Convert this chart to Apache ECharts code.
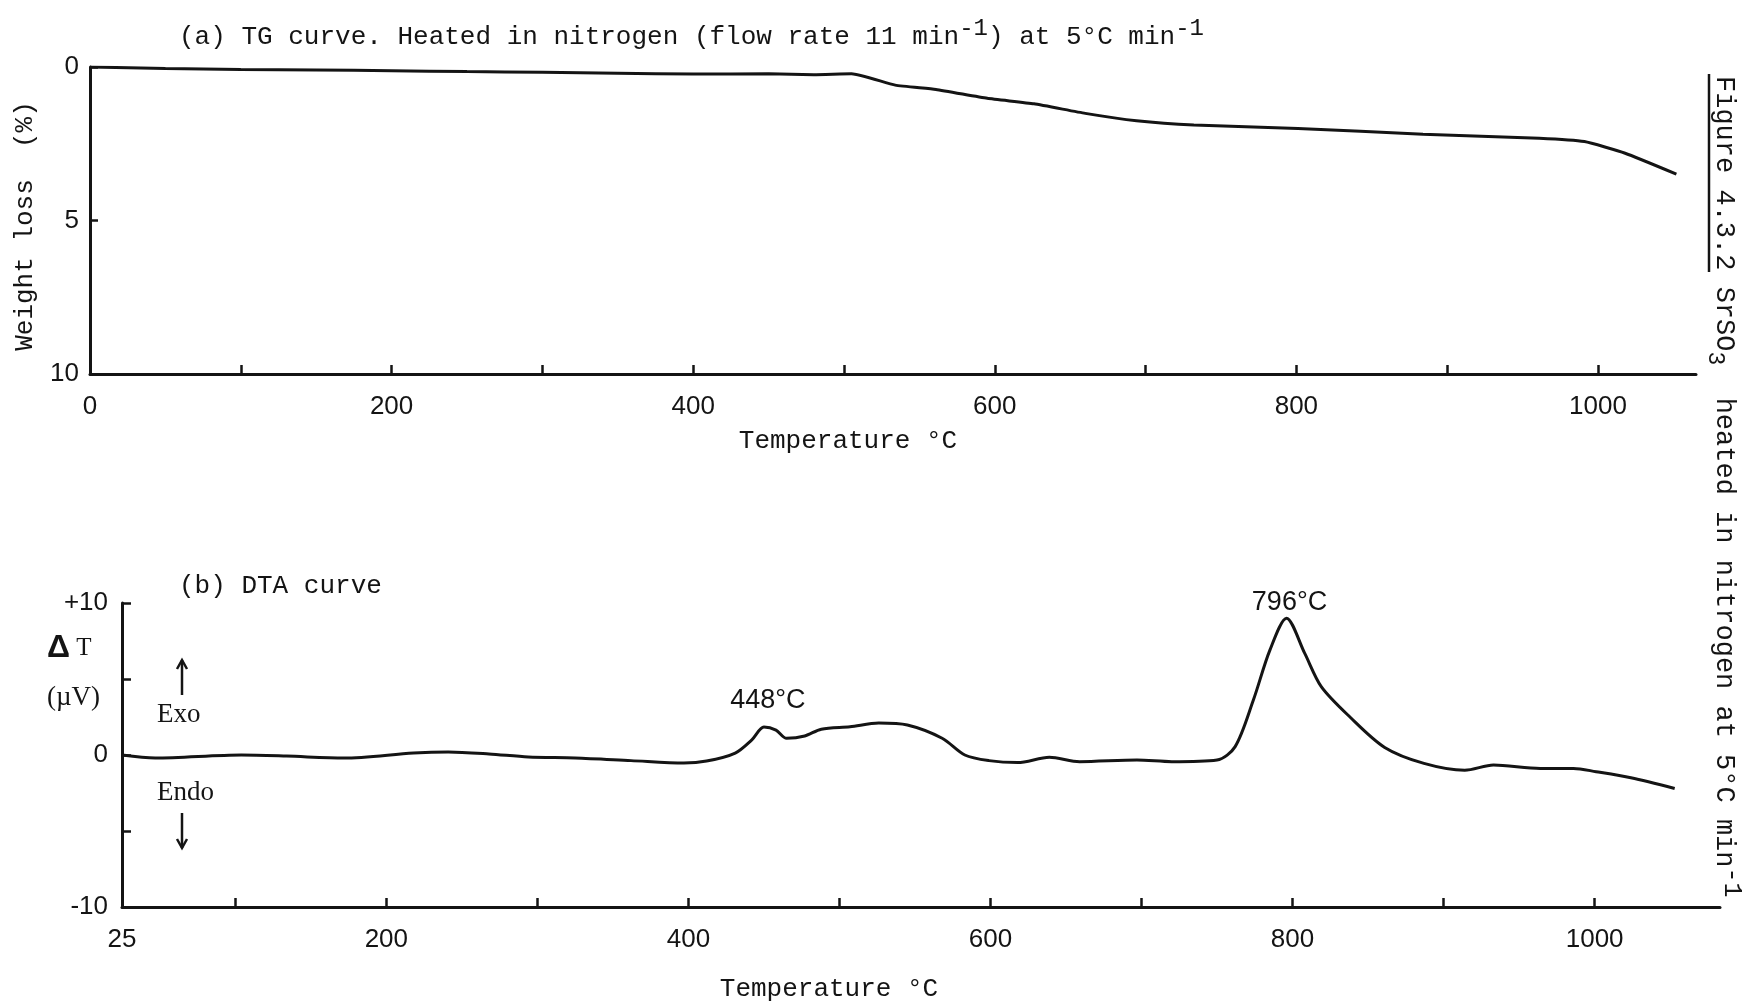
<!DOCTYPE html>
<html><head><meta charset="utf-8">
<script src="https://cdn.jsdelivr.net/npm/echarts@6/dist/echarts.min.js"></script>
<style>html,body{margin:0;padding:0;background:#fff}#c{width:1750px;height:1005px}</style>
</head><body><div id="c"></div>
<script>
// ---- TG curve (weight loss %, vs temperature °C) ----
const tgTemp = [0, 50, 100, 150, 200, 250, 300, 350, 400, 450, 480, 505, 534, 561, 595, 626, 660, 694, 732, 801, 884, 961, 991, 1018, 1052];
const tgLoss = [0.0, 0.05, 0.08, 0.10, 0.12, 0.15, 0.17, 0.20, 0.23, 0.22, 0.25, 0.22, 0.59, 0.73, 1.02, 1.20, 1.51, 1.75, 1.89, 2.00, 2.19, 2.32, 2.43, 2.81, 3.49];
const tgXLabels = [0, 200, 400, 600, 800, 1000];
const tgYLabels = [0, 5, 10];

// ---- DTA curve (ΔT µV, vs temperature °C) ----
const dtaTemp = [25, 47, 104, 134, 172, 218, 241, 268, 294, 325, 362, 397, 412, 431, 442, 450, 458, 465, 477, 488, 507, 526, 545, 568, 583, 599, 618, 639, 659, 697, 720, 750, 762, 774, 785, 796, 808, 819, 838, 861, 887, 914, 933, 964, 986, 1001, 1024, 1053];
const dtaDeltaT = [0, -0.2, 0, -0.07, -0.2, 0.13, 0.2, 0.07, -0.13, -0.2, -0.37, -0.53, -0.4, 0.13, 1.0, 1.84, 1.64, 1.1, 1.25, 1.7, 1.86, 2.1, 1.97, 1.1, 0, -0.37, -0.5, -0.15, -0.44, -0.33, -0.44, -0.33, 0.55, 3.6, 6.9, 9.0, 6.7, 4.5, 2.5, 0.5, -0.55, -1.0, -0.66, -0.88, -0.88, -1.1, -1.5, -2.2];
const dtaXLabels = [25, 200, 400, 600, 800, 1000];
const dtaXTicks = [100, 200, 300, 400, 500, 600, 700, 800, 900, 1000];
const dtaYLabels = {'10': '+10', '0': '0', '-10': '-10'};
const peakTemps = [450, 796];
const peakValues = [1.84, 9.0];
const peakNames = ['448°C', '796°C'];

const INK = '#141414';
const MONO = "'Liberation Mono','DejaVu Sans Mono',monospace";
const SANS = "'Liberation Sans','DejaVu Sans',sans-serif";
const SERIF = "'Liberation Serif','DejaVu Serif',serif";

const chart = echarts.init(document.getElementById('c'), null, {renderer: 'canvas'});

const axisLine = {show: true, onZero: false, lineStyle: {color: INK, width: 3}};
const tickStyle = {color: INK, width: 2.5};

function monoRich(size) {
  return {
    m: {font: size + 'px ' + MONO, fill: INK, lineHeight: 40},
    s: {font: Math.round(size * 0.92) + 'px ' + MONO, fill: INK, lineHeight: 20, verticalAlign: 'top'},
    b: {font: Math.round(size * 0.85) + 'px ' + MONO, fill: INK, lineHeight: 20, verticalAlign: 'bottom'}
  };
}

function txt(x, y, text, font, align, rot) {
  return {type: 'text', x: x, y: y, rotation: rot || 0, silent: true,
    style: {text: text, font: font, fill: INK, align: align || 'left', verticalAlign: 'middle',
            textAlign: align || 'left', textVerticalAlign: 'middle'}};
}
function richTxt(x, y, text, size, align, rot) {
  return {type: 'text', x: x, y: y, rotation: rot || 0, silent: true,
    style: {text: text, rich: monoRich(size), font: size + 'px ' + MONO, fill: INK,
            align: align || 'left', verticalAlign: 'middle', textAlign: align || 'left', textVerticalAlign: 'middle'}};
}
function arrow(x, y1, y2) {
  const dir = y2 < y1 ? -1 : 1;
  return [
    {type: 'line', silent: true, shape: {x1: x, y1: y1, x2: x, y2: y2}, style: {stroke: INK, lineWidth: 2.5}},
    {type: 'polyline', silent: true, shape: {points: [[x - 5, y2 - dir * 9], [x, y2], [x + 5, y2 - dir * 9]]}, style: {stroke: INK, lineWidth: 2.5, fill: null}}
  ];
}

const option = {
  backgroundColor: '#ffffff',
  animation: false,
  grid: [
    {left: 90, top: 67, width: 1606, height: 307},
    {left: 122, top: 603, width: 1598, height: 304}
  ],
  xAxis: [
    {gridIndex: 0, type: 'value', min: 0, max: 1065, interval: 100,
     axisLine: axisLine,
     axisTick: {show: true, inside: true, length: 9, lineStyle: tickStyle},
     axisLabel: {show: true, margin: 20, color: INK, fontFamily: SANS, fontSize: 26,
                 formatter: v => tgXLabels.includes(v) ? String(v) : '', showMaxLabel: false},
     splitLine: {show: false}},
    {gridIndex: 1, type: 'value', min: 25, max: 1083,
     axisLine: axisLine,
     axisTick: {show: true, inside: true, length: 9, lineStyle: tickStyle, customValues: dtaXTicks},
     axisLabel: {show: true, margin: 20, color: INK, fontFamily: SANS, fontSize: 26, customValues: dtaXLabels,
                 formatter: v => String(v)},
     splitLine: {show: false}}
  ],
  yAxis: [
    {gridIndex: 0, type: 'value', inverse: true, min: 0, max: 10, interval: 5,
     axisLine: axisLine,
     axisTick: {show: true, inside: true, length: 8, lineStyle: tickStyle},
     axisLabel: {show: true, margin: 11, color: INK, fontFamily: SANS, fontSize: 26,
                 formatter: v => tgYLabels.includes(v) ? String(v) : ''},
     splitLine: {show: false}},
    {gridIndex: 1, type: 'value', min: -10, max: 10, interval: 5,
     axisLine: axisLine,
     axisTick: {show: true, inside: true, length: 9, lineStyle: tickStyle},
     axisLabel: {show: true, margin: 14, color: INK, fontFamily: SANS, fontSize: 26,
                 formatter: v => dtaYLabels[String(v)] !== undefined ? dtaYLabels[String(v)] : ''},
     splitLine: {show: false}}
  ],
  series: [
    {type: 'line', xAxisIndex: 0, yAxisIndex: 0, symbol: 'none', smooth: 0.15,
     data: tgTemp.map((t, i) => [t, tgLoss[i]]),
     lineStyle: {color: INK, width: 3}},
    {type: 'line', xAxisIndex: 1, yAxisIndex: 1, symbol: 'none', smooth: 0.3,
     data: dtaTemp.map((t, i) => [t, dtaDeltaT[i]]),
     lineStyle: {color: INK, width: 3},
     markPoint: {
       symbol: 'circle', symbolSize: 1, itemStyle: {color: 'rgba(0,0,0,0)'}, silent: true,
       data: peakTemps.map((t, i) => ({
         coord: [t, peakValues[i]], name: peakNames[i],
         label: {show: true, formatter: '{b}', position: 'top', distance: i === 0 ? 12 : 2,
                 offset: [i === 0 ? 4 : 3, 0], color: INK, fontFamily: SANS, fontSize: 27}
       }))
     }}
  ],
  graphic: [
    richTxt(179, 37, '{m|(a) TG curve. Heated in nitrogen (flow rate 11 min}{s|-1}{m|) at 5°C min}{s|-1}', 26, 'left'),
    txt(848, 441, 'Temperature °C', '26px ' + MONO, 'center'),
    txt(25, 226, 'Weight loss  (%)', '26px ' + MONO, 'center', Math.PI / 2),
    txt(179, 586, '(b) DTA curve', '26px ' + MONO, 'left'),
    txt(829, 989, 'Temperature °C', '26px ' + MONO, 'center'),
    {type: 'text', x: 47, y: 648, silent: true,
     style: {text: '{d|Δ}{t| T}', rich: {d: {font: 'bold 32px ' + SANS, fill: INK}, t: {font: '25px ' + SERIF, fill: INK}},
             align: 'left', verticalAlign: 'middle', textAlign: 'left', textVerticalAlign: 'middle'}},
    txt(47, 698, '(µV)', '27px ' + SERIF, 'left'),
    txt(157, 715, 'Exo', '27px ' + SERIF, 'left'),
    txt(157, 793, 'Endo', '27px ' + SERIF, 'left'),
    ...arrow(182, 695, 660),
    ...arrow(182, 813, 848),
    richTxt(1724, 76, '{m|Figure 4.3.2 SrSO}{b|3}{m|  heated in nitrogen at 5°C min}{s|-1}', 27, 'left', -Math.PI / 2),
    {type: 'line', silent: true, shape: {x1: 1709, y1: 74, x2: 1709, y2: 272}, style: {stroke: INK, lineWidth: 2.5}}
  ]
};
chart.setOption(option);
</script>
</body></html>
